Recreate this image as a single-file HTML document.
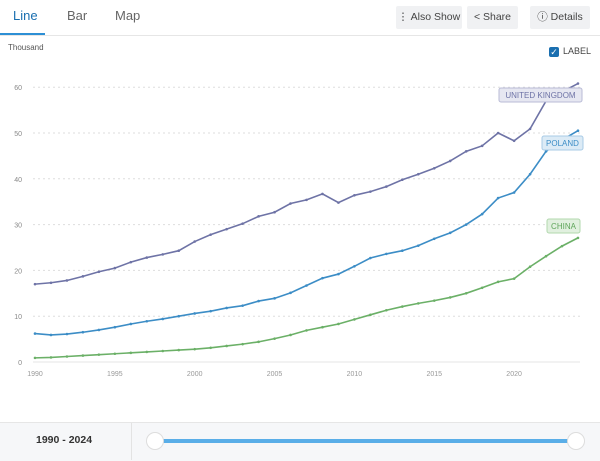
<!DOCTYPE html>
<html><head><meta charset="utf-8"><style>
body{margin:0;width:600px;height:460px;background:#fff;font-family:"Liberation Sans",sans-serif;overflow:hidden;position:relative}
.tab{position:absolute;top:8px;font-size:13px;color:#666}
.btn{position:absolute;top:6px;height:23px;background:#f0f1f3;border-radius:2px;font-size:10.5px;color:#444;line-height:23px;text-align:center}
</style></head><body>
<div class="tab" style="left:13px;color:#1a6fb0">Line</div>
<div class="tab" style="left:67px">Bar</div>
<div class="tab" style="left:115px">Map</div>
<div style="position:absolute;left:0;top:33px;width:45px;height:2px;background:#2d8fd5"></div>
<div style="position:absolute;left:0;top:35px;width:600px;height:1px;background:#e6e6e6"></div>
<div class="btn" style="left:396px;width:66px">⋮ Also Show</div>
<div class="btn" style="left:467px;width:51px">&lt; Share</div>
<div class="btn" style="left:530px;width:60px">ⓘ Details</div>
<div style="position:absolute;left:8px;top:43px;font-size:8px;color:#555">Thousand</div>
<div style="position:absolute;left:549px;top:47px;width:10px;height:10px;background:#1a6fb0;border-radius:2px;color:#fff;font-size:9px;line-height:10px;text-align:center">✓</div>
<div style="position:absolute;left:563px;top:46px;font-size:9px;color:#444">LABEL</div>
<svg id="s" width="600" height="460" style="position:absolute;left:0;top:0"></svg>
<div style="position:absolute;left:0;top:422px;width:600px;height:38px;background:#f6f7f9;border-top:1px solid #e6e6e6"></div>
<div style="position:absolute;left:131px;top:423px;width:1px;height:37px;background:#e3e3e3"></div>
<div style="position:absolute;left:36px;top:434px;font-size:10.5px;font-weight:bold;color:#333">1990 - 2024</div>
<div style="position:absolute;left:155px;top:439px;width:422px;height:4px;background:#5aaee8"></div>
<div style="position:absolute;left:146px;top:432px;width:16px;height:16px;border:1px solid #ddd;border-radius:50%;background:#fff"></div>
<div style="position:absolute;left:567px;top:432px;width:16px;height:16px;border:1px solid #ddd;border-radius:50%;background:#fff"></div>
<script>
const s=document.getElementById('s');let h='';
const X=y=>35+(y-1990)*15.97, Y=v=>362-v*4.58;
for(let v=0;v<=60;v+=10){const y=Y(v);h+=`<line x1="33" x2="580" y1="${y}" y2="${y}" stroke="${v?'#ddd':'#e6e6e6'}" stroke-dasharray="${v?'2,3':''}"/>`;
h+=`<text x="22" y="${y+3}" font-size="7" fill="#888" text-anchor="end">${v}</text>`}
for(let yr=1990;yr<=2020;yr+=5){h+=`<text x="${X(yr)}" y="376" font-size="7" fill="#999" text-anchor="middle">${yr}</text>`}
const D={uk:[17,17.3,17.8,18.7,19.7,20.5,21.8,22.8,23.5,24.3,26.3,27.8,29,30.2,31.8,32.7,34.6,35.4,36.7,34.8,36.4,37.2,38.3,39.8,41,42.3,43.9,46,47.2,50,48.3,50.9,57,59,60.8],
pl:[6.2,5.9,6.1,6.5,7,7.6,8.3,8.9,9.4,10,10.6,11.1,11.8,12.3,13.3,13.9,15.1,16.7,18.3,19.2,20.9,22.7,23.6,24.3,25.4,26.9,28.2,30,32.3,35.8,37,41,46,48.5,50.5],
cn:[0.9,1,1.2,1.4,1.6,1.8,2,2.2,2.4,2.6,2.8,3.1,3.5,3.9,4.4,5.1,5.9,6.9,7.6,8.3,9.3,10.3,11.3,12.1,12.8,13.4,14.1,15,16.2,17.5,18.2,20.8,23.1,25.3,27.1]};
const C={uk:'#6e73a6',pl:'#3c8dc6',cn:'#6bb067'};
for(const k in D){h+=`<polyline fill="none" stroke="${C[k]}" stroke-width="1.6" points="${D[k].map((v,i)=>X(1990+i)+','+Y(v)).join(' ')}"/>`;
D[k].forEach((v,i)=>h+=`<circle cx="${X(1990+i)}" cy="${Y(v)}" r="1.3" fill="${C[k]}"/>`)}
const L=[[499,88,83,'UNITED KINGDOM','#e6e7f1','#b9bbd6','#6e73a6'],[542,136,41,'POLAND','#dcebf6','#a8cbe6','#3c8dc6'],[547,219,33,'CHINA','#e1f0df','#b2d8ae','#5ea55a']];
L.forEach(a=>{h+=`<rect x="${a[0]}" y="${a[1]}" width="${a[2]}" height="14" rx="2" fill="${a[4]}" stroke="${a[5]}"/><text x="${a[0]+a[2]/2}" y="${a[1]+10}" font-size="8" fill="${a[6]}" text-anchor="middle">${a[3]}</text>`});
s.innerHTML=h;
</script>
</body></html>
